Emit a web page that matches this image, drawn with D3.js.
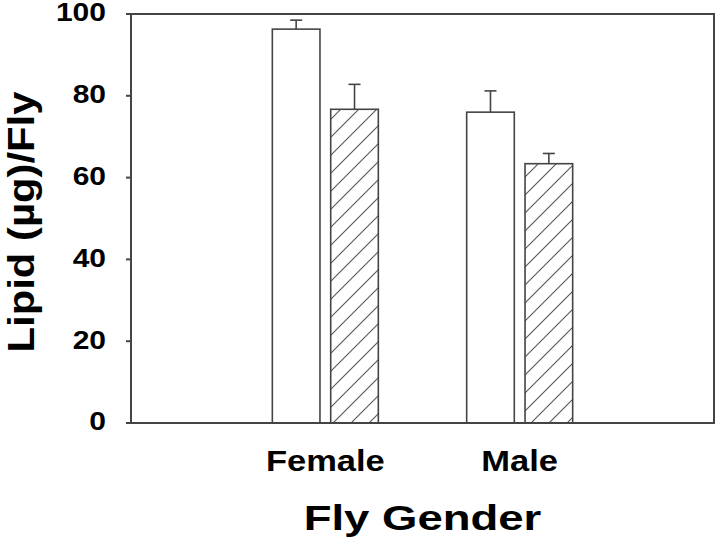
<!DOCTYPE html>
<html>
<head>
<meta charset="utf-8">
<script src="https://cdn.jsdelivr.net/npm/d3@7"></script>
<style>
  body { margin: 0; background: #fff; }
  svg { display: block; font-family: Arial, "Liberation Sans", sans-serif; font-weight: bold; }
</style>
</head>
<body>
<svg id="chart" width="718" height="551"></svg>
<script>
// data
const categories = ["Female", "Male"];
const groups = ["control", "treated"];
const controlValues = [96.3, 76.0];
const treatedValues = [76.7, 63.4];
const controlErrors = [2.2, 5.2];
const treatedErrors = [6.1, 2.5];
const yTicks = [0, 20, 40, 60, 80, 100];

const svg = d3.select("#chart");
const plotLeft = 131, plotRight = 714, plotTop = 14, plotBottom = 423;
const lineColor = "#444";

let x = d3.scalePoint().domain(categories).range([plotLeft, plotRight]).padding(1);
let xInner = d3.scaleBand().domain(groups).range([-53, 53]).paddingInner(0.184);
let y = d3.scaleLinear().domain([0, 100]).range([plotBottom, plotTop]);

// hatch pattern for the second series
let defs = svg.append("defs");
let pat = defs.append("pattern")
  .attr("id", "hatch")
  .attr("patternUnits", "userSpaceOnUse")
  .attr("width", 18).attr("height", 18);
pat.append("rect").attr("width", 18).attr("height", 18).attr("fill", "#fff");
pat.append("path")
  .attr("d", "M0,18 L18,0 M-4.5,4.5 L4.5,-4.5 M13.5,22.5 L22.5,13.5")
  .attr("stroke", "#555").attr("stroke-width", 1.1);

// rows: one per bar
let rows = [];
categories.forEach((c, i) => {
  rows.push({ cat: c, grp: "control", v: controlValues[i], e: controlErrors[i] });
  rows.push({ cat: c, grp: "treated", v: treatedValues[i], e: treatedErrors[i] });
});

// error bars (upward only)
let eb = svg.append("g").attr("stroke", lineColor).attr("stroke-width", 1.6);
rows.forEach(d => {
  let cx = x(d.cat) + xInner(d.grp) + xInner.bandwidth() / 2;
  eb.append("line").attr("x1", cx).attr("x2", cx).attr("y1", y(d.v)).attr("y2", y(d.v + d.e));
  eb.append("line").attr("x1", cx - 6).attr("x2", cx + 6).attr("y1", y(d.v + d.e)).attr("y2", y(d.v + d.e));
});

// bars
svg.append("g").selectAll("rect").data(rows).enter().append("rect")
  .attr("x", d => x(d.cat) + xInner(d.grp))
  .attr("width", xInner.bandwidth())
  .attr("y", d => y(d.v))
  .attr("height", d => y(0) - y(d.v))
  .attr("fill", d => d.grp === "control" ? "#fff" : "url(#hatch)")
  .attr("stroke", lineColor)
  .attr("stroke-width", 1.6);

// frame
svg.append("rect")
  .attr("x", plotLeft).attr("y", plotTop)
  .attr("width", plotRight - plotLeft).attr("height", plotBottom - plotTop)
  .attr("fill", "none").attr("stroke", lineColor).attr("stroke-width", 2);

// y axis ticks and labels
let yAxis = svg.append("g");
yTicks.forEach(t => {
  yAxis.append("line").attr("x1", plotLeft - 5).attr("x2", plotLeft).attr("y1", y(t)).attr("y2", y(t))
    .attr("stroke", lineColor).attr("stroke-width", 2);
  yAxis.append("text")
    .attr("transform", `translate(106,${y(t) + 7.4}) scale(1.2,1)`)
    .attr("text-anchor", "end")
    .attr("font-size", 25)
    .text(t);
});

// category labels
categories.forEach(c => {
  svg.append("text")
    .attr("transform", `translate(${x(c)},470.7) scale(1.19,1)`)
    .attr("text-anchor", "middle")
    .attr("font-size", 29)
    .text(c);
});

// axis titles
svg.append("text")
  .attr("transform", `translate(${(plotLeft + plotRight) / 2},530) scale(1.3,1)`)
  .attr("text-anchor", "middle")
  .attr("font-size", 35)
  .text("Fly Gender");

svg.append("text")
  .attr("transform", "translate(33.5,222) rotate(-90) scale(1.13,1)")
  .attr("text-anchor", "middle")
  .attr("font-size", 37)
  .text("Lipid (µg)/Fly");
</script>
</body>
</html>
